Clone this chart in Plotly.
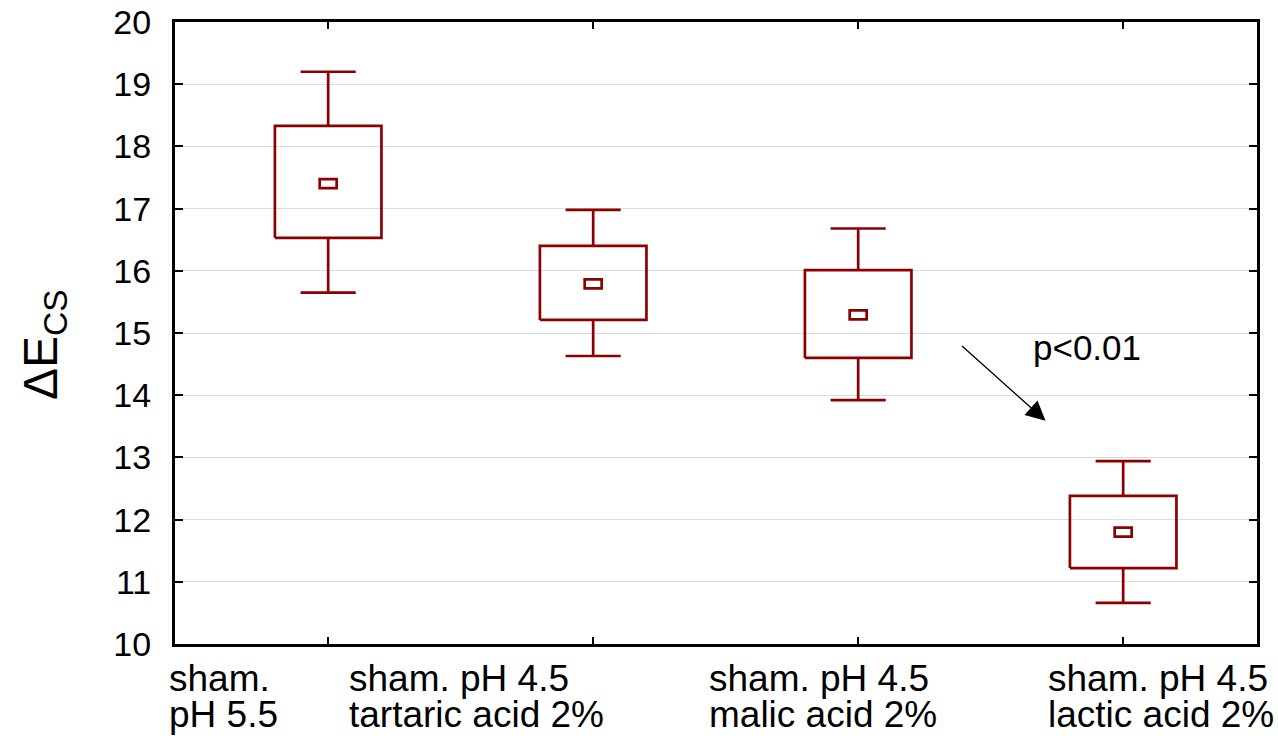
import plotly.graph_objects as go

# ---- data ----
categories = ["sham.<br>pH 5.5", "sham. pH 4.5<br>tartaric acid 2%",
              "sham. pH 4.5<br>malic acid 2%", "sham. pH 4.5<br>lactic acid 2%"]
label_line1 = ["sham.", "sham. pH 4.5", "sham. pH 4.5", "sham. pH 4.5"]
label_line2 = ["pH 5.5", "tartaric acid 2%", "malic acid 2%", "lactic acid 2%"]
means = [17.40, 15.79, 15.29, 11.80]
box_low = [16.53, 15.21, 14.60, 11.22]
box_high = [18.33, 16.40, 16.01, 12.38]
whisk_low = [15.65, 14.63, 13.92, 10.66]
whisk_high = [19.20, 16.98, 16.68, 12.94]
y_ticks = list(range(10, 21))

COLOR = "#8B0000"
FONT = "Liberation Sans, Arial, sans-serif"
BOX_HALF = 0.201
CAP_HALF = 0.104

fig = go.Figure()

for i in range(len(means)):
    xs, ys = [], []
    # box outline
    xs += [i - BOX_HALF, i + BOX_HALF, i + BOX_HALF, i - BOX_HALF, i - BOX_HALF, None]
    ys += [box_low[i], box_low[i], box_high[i], box_high[i], box_low[i], None]
    # upper whisker + cap
    xs += [i, i, None, i - CAP_HALF, i + CAP_HALF, None]
    ys += [box_high[i], whisk_high[i], None, whisk_high[i], whisk_high[i], None]
    # lower whisker + cap
    xs += [i, i, None, i - CAP_HALF, i + CAP_HALF, None]
    ys += [box_low[i], whisk_low[i], None, whisk_low[i], whisk_low[i], None]
    fig.add_trace(go.Scatter(x=xs, y=ys, mode="lines",
                             line=dict(color=COLOR, width=2.7),
                             showlegend=False, hoverinfo="skip"))
    # mean marker (small rectangle anchored at the mean)
    fig.add_shape(type="rect", xref="x", yref="y",
                  xsizemode="pixel", ysizemode="pixel",
                  xanchor=i, yanchor=means[i],
                  x0=-8.5, x1=8.5, y0=-4.5, y1=4.5,
                  line=dict(color=COLOR, width=2.7), fillcolor="white")

fig.add_trace(go.Scatter(x=list(range(len(means))), y=means, mode="markers",
                         marker=dict(size=1, color="rgba(0,0,0,0)"),
                         showlegend=False, hoverinfo="y"))

# x category labels (left aligned, two lines)
label_left_px = [167, 347, 707, 1046]
plot_left, plot_w = 175, 1082
for i in range(len(categories)):
    xp = (label_left_px[i] - plot_left) / plot_w
    fig.add_annotation(xref="paper", yref="paper", x=xp, y=0, xanchor="left",
                       yanchor="top", yshift=-12, showarrow=False,
                       text=label_line1[i], font=dict(family=FONT, size=37, color="black"))
    fig.add_annotation(xref="paper", yref="paper", x=xp, y=0, xanchor="left",
                       yanchor="top", yshift=-48, showarrow=False,
                       text=label_line2[i], font=dict(family=FONT, size=37, color="black"))

# y-axis title
fig.add_annotation(xref="paper", yref="paper", x=(44 - plot_left) / plot_w, y=0.4807,
                   xanchor="center", yanchor="middle", textangle=-90, showarrow=False,
                   text="ΔE<sub>CS</sub>", font=dict(family=FONT, size=48, color="black"))

# significance arrow and label
fig.add_annotation(x=2.707, y=13.59, xref="x", yref="y", ax=-85, ay=-76,
                   text="", showarrow=True, arrowhead=2, arrowsize=3,
                   arrowwidth=1.3, arrowcolor="black", standoff=0)
fig.add_annotation(x=2.864, y=14.76, xref="x", yref="y", showarrow=False,
                   text="p<0.01", font=dict(family=FONT, size=35, color="black"))

fig.update_layout(
    width=1278, height=742,
    margin=dict(l=175, r=21, t=22, b=98, autoexpand=False),
    plot_bgcolor="white", paper_bgcolor="white",
    font=dict(family=FONT, color="black"),
)
fig.update_xaxes(range=[-0.578, 3.505], tickvals=list(range(len(means))),
                 showticklabels=False, showgrid=False, zeroline=False, automargin=False,
                 showline=True, linecolor="black", linewidth=3, mirror="ticks",
                 ticks="inside", ticklen=7, tickwidth=2, tickcolor="black")
fig.update_yaxes(range=[10, 20], tickvals=y_ticks, ticktext=[str(v) for v in y_ticks],
                 showgrid=True, gridcolor="#dcdcdc", gridwidth=1, zeroline=False,
                 automargin=False,
                 showline=True, linecolor="black", linewidth=3, mirror="ticks",
                 ticks="inside", ticklen=8, tickwidth=2, tickcolor="black",
                 tickfont=dict(family=FONT, size=34, color="black"),
                 ticklabelstandoff=14)

fig.write_html("out.html")
